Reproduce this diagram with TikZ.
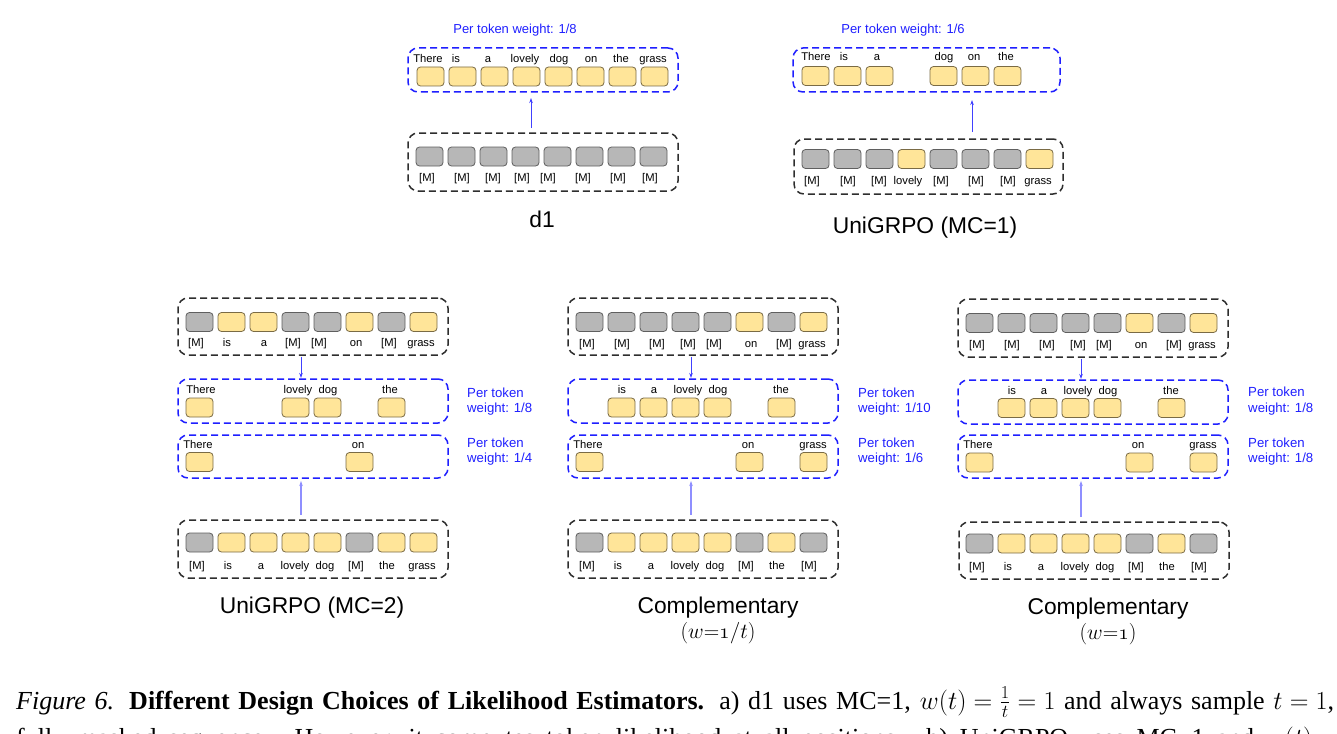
\RequirePackage{fix-cm}
\documentclass[tikz,border=0pt]{standalone}
\usepackage[no-math]{fontspec}
\setmainfont{Liberation Sans}
\newfontfamily\capfont{Liberation Serif}
\usetikzlibrary{arrows.meta,calc}
\definecolor{tokY}{HTML}{FFE599}
\definecolor{tokYd}{HTML}{7A6B45}
\definecolor{tokG}{HTML}{B7B7B7}
\definecolor{tokGd}{HTML}{5F5F5F}
\definecolor{bblue}{HTML}{1F1FFF}
\definecolor{dgray}{HTML}{2E2E2E}
\definecolor{lblue}{HTML}{8F8FFF}
\tikzset{
  tok/.style={rounded corners=3.5pt, minimum width=27pt, minimum height=19pt, inner sep=0pt, outer sep=0pt, line width=0.8pt},
  lab/.style={font=\fontsize{11.2}{12}\selectfont, inner sep=0pt, anchor=base},
  bbox/.style={draw=dgray, line width=1.5pt, dash pattern=on 7pt off 4pt, rounded corners=10pt, inner sep=0pt, outer sep=0pt, anchor=north west},
  blbox/.style={bbox, draw=bblue},
  arrT/.style={draw=bblue!85, line width=0.8pt, -{Stealth[length=5pt,width=3.5pt]}},
  arrL/.style={draw=lblue, line width=1.2pt, -{Stealth[length=5pt,width=3.5pt]}},
  side/.style={font=\fontsize{13.2}{15.5}\selectfont, text=bblue, align=left, anchor=base west, inner sep=0pt},
  wtitle/.style={font=\fontsize{13}{15}\selectfont, text=bblue, anchor=base, inner sep=0pt},
  ttl/.style={font=\fontsize{22.8}{26}\selectfont, anchor=base, inner sep=0pt},
  subttl/.style={font=\fontsize{21.5}{25}\selectfont, anchor=base, inner sep=0pt},
  captext/.style={font=\capfont\fontsize{26}{31}\selectfont, inner sep=0pt},
}
\newcommand\fixmath{\thickmuskip=5mu\relax\medmuskip=4mu\relax}
% #1 name prefix, #2 left x of token 0, #3 centre y, #4 list pos/colour
\newcommand\tokrow[4]{\foreach \p/\s in {#4}{\node[tok, fill=tok\s, draw=tok\s d] (#1\p) at ({#2+13.5+32*\p},#3) {};}}
% #1 name prefix, #2 x offset, #3 baseline y, #4 list x/text
\newcommand\labrow[4]{\foreach \x/\t [count=\i] in {#4}{\node[lab] (#1\i) at ({#2+\x},#3) {\t};}}
\begin{document}
\begin{tikzpicture}[x=1pt,y=-1pt]
\clip (0,0) rectangle (1337,733);
\useasboundingbox (0,0) rectangle (1337,733);

% ---------------- d1 ----------------
\node[wtitle] (d1w) at (515,34) {Per token weight: 1/8};
\node[blbox, minimum width=270pt, minimum height=44pt] (d1top) at (408,48) {};
\tokrow{d1t}{417}{76.5}{0/Y,1/Y,2/Y,3/Y,4/Y,5/Y,6/Y,7/Y}
\labrow{d1tl}{0}{62.5}{428/There,456/is,488/a,525/lovely,559/dog,591/on,621/the,653/grass}
\node[bbox, minimum width=270pt, minimum height=58pt] (d1bot) at (408,133) {};
\tokrow{d1b}{416}{156.5}{0/G,1/G,2/G,3/G,4/G,5/G,6/G,7/G}
\labrow{d1bl}{0}{181.5}{427/{[M]},462/{[M]},493/{[M]},522/{[M]},548/{[M]},583/{[M]},618/{[M]},650/{[M]}}
\coordinate (d1ax) at (531,0);
\draw[arrT, shorten <=5pt, shorten >=6pt] (d1ax |- d1bot.north) -- (d1ax |- d1top.south);
\node[ttl] (d1ttl) at (542,227.5) {d1};

% ---------------- UniGRPO (MC=1) ----------------
\node[wtitle] (u1w) at (903,34) {Per token weight: 1/6};
\node[blbox, minimum width=267pt, minimum height=44pt] (u1top) at (793,48) {};
\tokrow{u1t}{802}{76}{0/Y,1/Y,2/Y,4/Y,5/Y,6/Y}
\labrow{u1tl}{0}{61}{816/There,844/is,877/a,944/dog,974/on,1006/the}
\node[bbox, minimum width=269pt, minimum height=55pt] (u1bot) at (794,139) {};
\tokrow{u1b}{802}{159}{0/G,1/G,2/G,3/Y,4/G,5/G,6/G,7/Y}
\labrow{u1bl}{0}{184}{812/{[M]},848/{[M]},879/{[M]},908/lovely,941/{[M]},976/{[M]},1008/{[M]},1038/grass}
\coordinate (u1ax) at (972,0);
\draw[arrT, shorten <=7pt, shorten >=8pt] (u1ax |- u1bot.north) -- (u1ax |- u1top.south);
\node[ttl] (u1ttl) at (925,233) {UniGRPO (MC=1)};

% ---------------- UniGRPO (MC=2) ----------------
\begin{scope}[shift={(178,0)}]
\node[bbox, minimum width=270pt, minimum height=57pt] (u2top) at (0,298) {};
\tokrow{u2t}{8}{322}{0/G,1/Y,2/Y,3/G,4/G,5/Y,6/G,7/Y}
\labrow{u2tl}{0}{346}{18/{[M]},49/is,86/a,115/{[M]},141/{[M]},178/on,211/{[M]},243/grass}
\node[blbox, minimum width=270pt, minimum height=44pt] (u2m1) at (0,379) {};
\tokrow{u2a}{8}{407.5}{0/Y,3/Y,4/Y,6/Y}
\labrow{u2al}{0}{393}{23/There,120/lovely,150/dog,212/the}
\node[blbox, minimum width=270pt, minimum height=43pt] (u2m2) at (0,435) {};
\tokrow{u2b}{8}{462}{0/Y,5/Y}
\labrow{u2bl}{0}{448}{20/There,180/on}
\node[bbox, minimum width=270pt, minimum height=58pt] (u2bot) at (0,520) {};
\tokrow{u2c}{8}{542.5}{0/G,1/Y,2/Y,3/Y,4/Y,5/G,6/Y,7/Y}
\labrow{u2cl}{0}{569}{19/{[M]},50/is,83/a,117/lovely,147/dog,178/{[M]},209/the,244/grass}
\coordinate (u2ax) at (123,0);
\draw[arrT, shorten <=2pt, shorten >=1pt] (u2ax |- u2top.south) -- (u2ax |- u2m1.north);
\draw[arrL, shorten <=5pt, shorten >=3pt] (u2ax |- u2bot.north) -- (u2ax |- u2m2.south);
\node[side] (u2s1) at (289,412.5) {Per token\\weight: 1/8};
\node[side] (u2s2) at (289,462.5) {Per token\\weight: 1/4};
\node[ttl] (u2ttl) at (134,613) {UniGRPO (MC=2)};
\end{scope}

% ---------------- Complementary (w=1/t) ----------------
\begin{scope}[shift={(568,0)}]
\node[bbox, minimum width=270pt, minimum height=57pt] (c1top) at (0,298) {};
\tokrow{c1t}{8}{322}{0/G,1/G,2/G,3/G,4/G,5/Y,6/G,7/Y}
\labrow{c1tl}{0}{347}{19/{[M]},54/{[M]},89/{[M]},120/{[M]},146/{[M]},183/on,216/{[M]},244/grass}
\node[blbox, minimum width=270pt, minimum height=44pt] (c1m1) at (0,379) {};
\tokrow{c1a}{8}{407.5}{1/Y,2/Y,3/Y,4/Y,6/Y}
\labrow{c1al}{0}{393}{54/is,86/a,120/lovely,150/dog,213/the}
\node[blbox, minimum width=270pt, minimum height=43pt] (c1m2) at (0,435) {};
\tokrow{c1b}{8}{462}{0/Y,5/Y,7/Y}
\labrow{c1bl}{0}{448}{20/There,180/on,245/grass}
\node[bbox, minimum width=270pt, minimum height=58pt] (c1bot) at (0,520) {};
\tokrow{c1c}{8}{542.5}{0/G,1/Y,2/Y,3/Y,4/Y,5/G,6/Y,7/G}
\labrow{c1cl}{0}{569}{19/{[M]},50/is,83/a,117/lovely,147/dog,178/{[M]},209/the,241/{[M]}}
\coordinate (c1ax) at (123,0);
\draw[arrT, shorten <=2pt, shorten >=1pt] (c1ax |- c1top.south) -- (c1ax |- c1m1.north);
\draw[arrL, shorten <=5pt, shorten >=3pt] (c1ax |- c1bot.north) -- (c1ax |- c1m2.south);
\node[side] (c1s1) at (290,412.5) {Per token\\weight: 1/10};
\node[side] (c1s2) at (290,462.5) {Per token\\weight: 1/6};
\node[ttl] (c1ttl) at (150,613) {Complementary};
\node[subttl] (c1sub) at (150,638) {$(w{=}\mathnormal{1}/t)$};
\end{scope}

% ---------------- Complementary (w=1) ----------------
\begin{scope}[shift={(958,0)}]
\node[bbox, minimum width=270pt, minimum height=58pt] (c2top) at (0,299) {};
\tokrow{c2t}{8}{323}{0/G,1/G,2/G,3/G,4/G,5/Y,6/G,7/Y}
\labrow{c2tl}{0}{348}{19/{[M]},54/{[M]},89/{[M]},120/{[M]},146/{[M]},183/on,216/{[M]},244/grass}
\node[blbox, minimum width=270pt, minimum height=44pt] (c2m1) at (0,380) {};
\tokrow{c2a}{8}{408}{1/Y,2/Y,3/Y,4/Y,6/Y}
\labrow{c2al}{0}{394}{54/is,86/a,120/lovely,150/dog,213/the}
\node[blbox, minimum width=270pt, minimum height=43pt] (c2m2) at (0,435) {};
\tokrow{c2b}{8}{462.5}{0/Y,5/Y,7/Y}
\labrow{c2bl}{0}{448}{20/There,180/on,245/grass}
\node[bbox, minimum width=270pt, minimum height=57pt] (c2bot) at (1,522) {};
\tokrow{c2c}{8}{543.5}{0/G,1/Y,2/Y,3/Y,4/Y,5/G,6/Y,7/G}
\labrow{c2cl}{0}{570}{19/{[M]},50/is,83/a,117/lovely,147/dog,178/{[M]},209/the,241/{[M]}}
\coordinate (c2ax) at (123,0);
\draw[arrT, shorten <=2pt, shorten >=1pt] (c2ax |- c2top.south) -- (c2ax |- c2m1.north);
\draw[arrL, shorten <=5pt, shorten >=3pt] (c2ax |- c2bot.north) -- (c2ax |- c2m2.south);
\node[side] (c2s1) at (290,412) {Per token\\weight: 1/8};
\node[side] (c2s2) at (290,462.5) {Per token\\weight: 1/8};
\node[ttl] (c2ttl) at (150,614) {Complementary};
\node[subttl] (c2sub) at (150,639) {$(w{=}\mathnormal{1})$};
\end{scope}

% ---------------- caption ----------------
\node[captext, anchor=base west] (cap1) at (16,709) {\fixmath\makebox[1318pt][s]{\textit{Figure 6.} \textbf{Different Design Choices of Likelihood Estimators.} a) d1 uses MC=1, $w(t)=\frac{1}{t}=1$ and always sample $t=1$,}};
\node[captext, anchor=base west] (cap2) at (16,746) {\fixmath\makebox[1340pt][s]{fully masked sequence. However, it computes token likelihood at all positions. b) UniGRPO uses MC=1 and $w(t)=\frac{1}{t}$}};
\end{tikzpicture}
\end{document}
